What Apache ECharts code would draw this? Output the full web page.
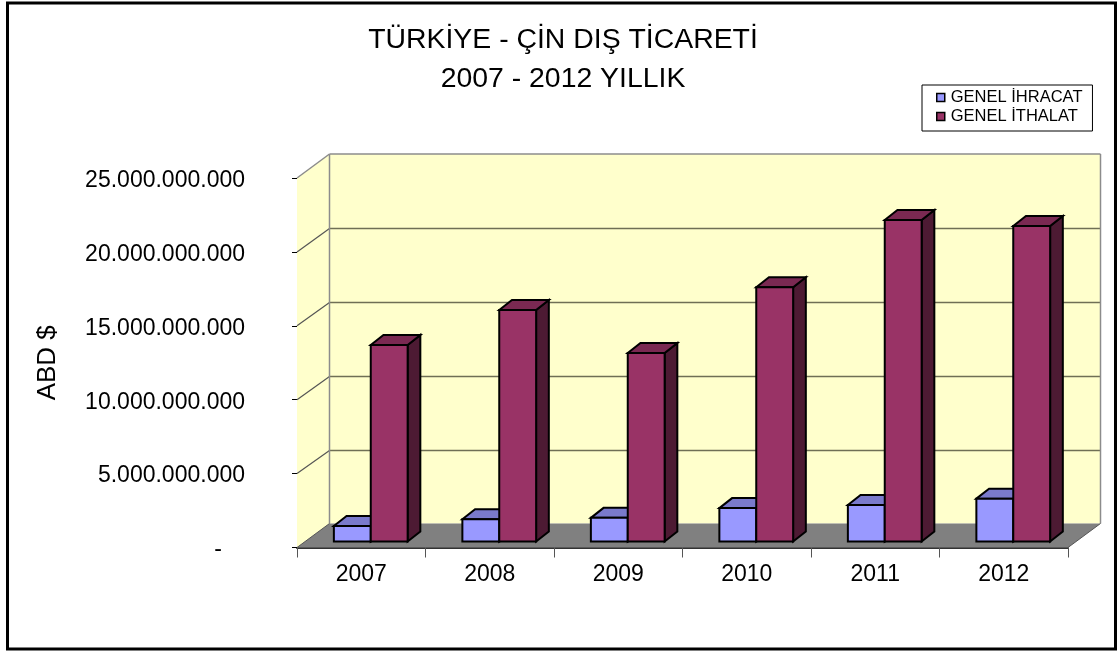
<!DOCTYPE html>
<html><head><meta charset="utf-8">
<style>html,body{margin:0;padding:0;background:#fff}#c{width:1118px;height:653px}</style>
<script src="https://cdn.jsdelivr.net/npm/echarts@6/dist/echarts.min.js"></script>
</head><body><div id="c"></div>
<script>
const categories = ['2007','2008','2009','2010','2011','2012'];
const exportName = 'GENEL İHRACAT';
const importName = 'GENEL İTHALAT';
const exportValues = [1.05e9,1.50e9,1.60e9,2.26e9,2.47e9,2.90e9];
const importValues = [13.3e9,15.66e9,12.75e9,17.2e9,21.75e9,21.35e9];
const yTicks = [0,5e9,10e9,15e9,20e9,25e9];
const titleText = 'TÜRKİYE - ÇİN DIŞ TİCARETİ\n2007 - 2012 YILLIK';
const yTitle = 'ABD $';

const FONT = '"Liberation Sans", Arial, sans-serif';
const WALL_DX = 32.5, WALL_DY = 24;
const BAR_DX = 12.7, BAR_DY = 10, BAR_LIFT = 6, BAR_SHIFT = 9.5, BAR_RATIO = 0.287;

const poly = (pts, fill, stroke, lw, z2) => ({type:'polygon', shape:{points:pts}, z2:z2||0,
  style:{fill:fill, stroke:stroke, lineWidth:lw===undefined?1:lw, lineJoin:'miter'}});
const line = (a,b,stroke,lw) => ({type:'line', shape:{x1:a[0],y1:a[1],x2:b[0],y2:b[1]},
  style:{stroke:stroke, lineWidth:lw}});

function renderWalls(params, api){
  const c = params.coordSys;
  const l = c.x, r = c.x + c.width, b = c.y + c.height, t = c.y;
  const kids = [];
  kids.push(poly([[l+WALL_DX,t-WALL_DY],[r+WALL_DX,t-WALL_DY],[r+WALL_DX,b-WALL_DY],[l+WALL_DX,b-WALL_DY]],'#FFFFCC','none',0));
  kids.push(poly([[l,t],[l+WALL_DX,t-WALL_DY],[l+WALL_DX,b-WALL_DY],[l,b]],'#FFFFCC','none',0));
  kids.push(poly([[l,b],[l+WALL_DX,b-WALL_DY],[r+WALL_DX,b-WALL_DY],[r,b]],'#808080','none',0));
  yTicks.forEach(v=>{
    if(v===0) return;
    const y = api.coord([0,v])[1];
    if(v===yTicks[yTicks.length-1]) return;
    const fy = Math.round(y-WALL_DY)+0.5;
    kids.push(line([l,y],[l+WALL_DX,fy],'#555',1.2));
    kids.push(line([l+WALL_DX,fy],[r+WALL_DX,fy],'#6f6f55',1.5));
  });
  const gray = '#8c8c8c';
  kids.push(line([l,t],[l+WALL_DX,t-WALL_DY],gray,1.5));
  kids.push(line([l+WALL_DX,t-WALL_DY],[r+WALL_DX,t-WALL_DY],gray,1.5));
  kids.push(line([l+WALL_DX,t-WALL_DY],[l+WALL_DX,b-WALL_DY],gray,1.5));
  kids.push(line([r+WALL_DX,t-WALL_DY],[r+WALL_DX,b-WALL_DY],gray,1.5));
  kids.push(line([r,b],[r+WALL_DX,b-WALL_DY],'#555',1));
  kids.push(line([l,b],[l+WALL_DX,b-WALL_DY],'#555',1));
  return {type:'group', children:kids};
}

function barRenderer(slot, front, top, side){
  return function(params, api){
    const i = api.value(0), v = api.value(1);
    const band = api.size([1,0])[0];
    const w = band * BAR_RATIO;
    const base = api.coord([i,0]), head = api.coord([i,v]);
    const x0 = base[0] + BAR_SHIFT + (slot-1)*w, x1 = x0 + w;
    const y0 = base[1] - BAR_LIFT, y1 = head[1] - BAR_LIFT;
    const S = '#000', L = 2;
    return {type:'group', children:[
      poly([[x1,y1],[x1+BAR_DX,y1-BAR_DY],[x1+BAR_DX,y0-BAR_DY],[x1,y0]],side,S,L),
      poly([[x0,y1],[x0+BAR_DX,y1-BAR_DY],[x1+BAR_DX,y1-BAR_DY],[x1,y1]],top,S,L),
      poly([[x0,y1],[x1,y1],[x1,y0],[x0,y0]],front,S,L)
    ]};
  };
}

const fmt = v => v===0 ? '{d|-}' : String(Math.round(v)).replace(/\B(?=(\d{3})+$)/g,'.');

const chart = echarts.init(document.getElementById('c'),null,{renderer:'canvas'});
chart.setOption({
  animation:false,
  backgroundColor:'#fff',
  textStyle:{fontFamily:FONT},
  title:{text:titleText,left:558,top:16,textAlign:'center',
    textStyle:{fontFamily:FONT,fontWeight:'normal',fontSize:28.4,lineHeight:39,color:'#000'}},
  legend:{data:[exportName,importName],orient:'vertical',left:922,top:85,
    padding:[4,10,6,14],itemGap:2,itemWidth:8,itemHeight:8,icon:'rect',borderColor:'#000',borderWidth:1,backgroundColor:'#fff',
    textStyle:{fontFamily:FONT,fontSize:16.5,color:'#000',padding:[0,0,0,1]},
    itemStyle:{borderColor:'#000',borderWidth:1.5}},
  grid:{left:297,top:178,width:771,height:369.5,containLabel:false},
  xAxis:{type:'category',data:categories,
    axisLine:{show:true,lineStyle:{color:'#333',width:2}},
    axisTick:{show:true,alignWithLabel:false,length:10,lineStyle:{color:'#555',width:1}},
    axisLabel:{fontFamily:FONT,fontSize:23,color:'#000',margin:16},
    splitLine:{show:false}},
  yAxis:{type:'value',min:0,max:25e9,interval:5e9,
    name:yTitle,nameLocation:'middle',nameRotate:90,nameGap:236,
    nameTextStyle:{fontFamily:FONT,fontSize:26,color:'#000'},
    axisLine:{show:true,lineStyle:{color:'#222',width:1}},
    axisTick:{show:true,length:5,lineStyle:{color:'#000',width:1}},
    axisLabel:{fontFamily:FONT,fontSize:23,color:'#000',margin:52,formatter:fmt,padding:[5,0,0,0],
      rich:{d:{fontFamily:FONT,fontSize:23,color:'#000',padding:[0,23,0,0]}}},
    splitLine:{show:false}},
  graphic:[{type:'rect',shape:{x:7.5,y:3,width:1108,height:646},z:100,silent:true,
    style:{fill:'none',stroke:'#000',lineWidth:3}}],
  series:[
    {type:'custom',name:'walls',silent:true,z:1,renderItem:renderWalls,data:[0],encode:{x:0}},
    {type:'custom',name:exportName,z:2,itemStyle:{color:'#9999FF'},
      renderItem:barRenderer(0,'#9999FF','#7A7ACC','#5C5C99'),
      data:exportValues.map((v,i)=>[i,v]),encode:{x:0,y:1}},
    {type:'custom',name:importName,z:3,itemStyle:{color:'#993366'},
      renderItem:barRenderer(1,'#993366','#7A2952','#4D1A33'),
      data:importValues.map((v,i)=>[i,v]),encode:{x:0,y:1}}
  ]
});
</script></body></html>
